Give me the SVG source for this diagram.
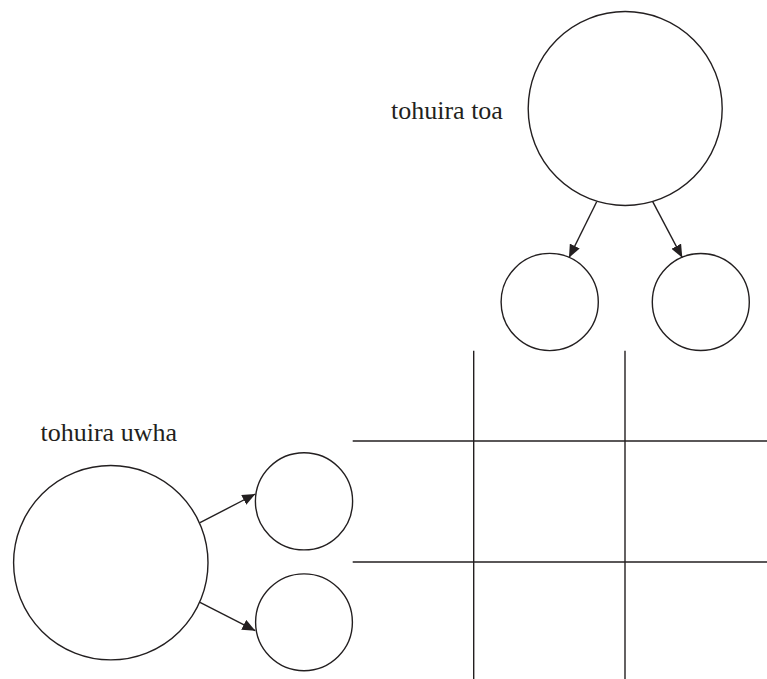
<svg xmlns="http://www.w3.org/2000/svg" width="767" height="679" viewBox="0 0 767 679">
  <style>
    .node { fill: none; stroke: #231f20; stroke-width: 1.4; }
    .edge { fill: none; stroke: #231f20; stroke-width: 1.4; }
    .grid { stroke: #231f20; stroke-width: 1.4; }
    .label { font-family: "Liberation Serif", "Times New Roman", serif; font-size: 26px; fill: #231f20; }
  </style>
  <defs>
    <marker id="arrow" markerUnits="userSpaceOnUse" markerWidth="13" markerHeight="11" refX="13" refY="5.5" orient="auto">
      <path d="M0,0 L13,5.5 L0,11 z" fill="#231f20"/>
    </marker>
  </defs>
  <rect width="767" height="679" fill="#ffffff"/>

  <g id="toa-parent">
    <circle class="node" cx="625.2" cy="108.5" r="97"/>
    <text class="label" x="391" y="119">tohuira toa</text>
  </g>
  <g id="toa-child-left">
    <circle class="node" cx="549.7" cy="302" r="48.6"/>
  </g>
  <g id="toa-child-right">
    <circle class="node" cx="700.8" cy="302" r="48.5"/>
  </g>

  <g id="uwha-parent">
    <circle class="node" cx="110.8" cy="562.7" r="97.2"/>
    <text class="label" x="40.5" y="440.7">tohuira uwha</text>
  </g>
  <g id="uwha-child-top">
    <circle class="node" cx="304" cy="501.3" r="48.6"/>
  </g>
  <g id="uwha-child-bottom">
    <circle class="node" cx="304" cy="622.3" r="48.4"/>
  </g>

  <g id="grid">
    <line class="grid" x1="473.7" y1="350.7" x2="473.7" y2="679"/>
    <line class="grid" x1="625" y1="350.7" x2="625" y2="679"/>
    <line class="grid" x1="352.7" y1="441" x2="767" y2="441"/>
    <line class="grid" x1="352.7" y1="562" x2="767" y2="562"/>
  </g>

  <g id="connectors">
    <line class="edge" x1="596.7" y1="201.7" x2="569" y2="257.7" marker-end="url(#arrow)"/>
    <line class="edge" x1="652.7" y1="201.7" x2="682.3" y2="257.7" marker-end="url(#arrow)"/>
    <line class="edge" x1="200" y1="522.7" x2="255.3" y2="494" marker-end="url(#arrow)"/>
    <line class="edge" x1="200" y1="602.3" x2="255.3" y2="630.7" marker-end="url(#arrow)"/>
  </g>
</svg>
